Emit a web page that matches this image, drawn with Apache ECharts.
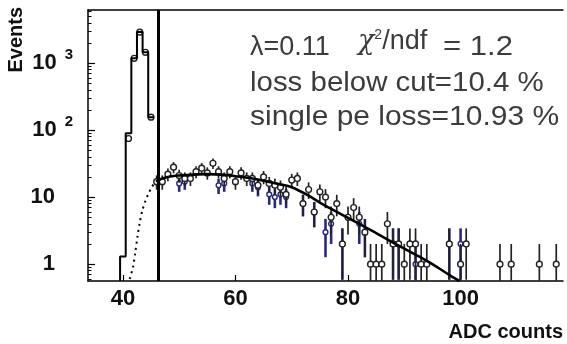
<!DOCTYPE html>
<html>
<head>
<meta charset="utf-8">
<script src="https://cdn.jsdelivr.net/npm/echarts@6/dist/echarts.min.js"></script>
<style>
  html, body { margin: 0; padding: 0; background: #fff; }
  #main { width: 567px; height: 344px; }
</style>
</head>
<body>
<div id="main"></div>
<script>
// histogram below the cut: bin centre (ADC) and events
const histX = [40, 41, 42, 43, 44, 45];
const histY = [1.3, 90, 1180, 2900, 1450, 156];

// measured points (black)
const pointX = [41, 42, 43, 44, 45, 46, 47, 48, 49, 50, 51, 52, 53, 54, 55, 56, 57, 58, 59, 60,
  61, 62, 63, 64, 65, 66, 67, 68, 69, 70, 71, 72, 73, 74, 75, 76, 77, 78, 79, 80,
  81, 82, 83, 84, 85, 86, 87, 88, 89, 90, 91, 92, 93, 94, 98, 100, 101, 107, 109, 114, 117];
const pointY = [75, 1180, 2900, 1450, 156, 17, 17, 22, 28, 21, 19, 19, 24, 27, 23, 32, 24, 19, 24, 17,
  23, 19, 19, 15, 20, 16, 15, 14, 11, 18, 19, 8, 13, 6, 12, 10, 5, 8, 2, 5,
  7, 5, 3, 1, 1, 1, 4, 2, 2, 1, 2, 2, 1, 1, 2, 1, 2, 1, 1, 1, 1];

// second data set (blue)
const blueX = [50, 51, 57, 58, 63, 64, 66, 67, 68, 69, 72, 74, 76, 77, 79, 82, 83, 88, 89, 92, 98, 100];
const blueY = [16, 17, 15, 16, 16, 14, 11, 10, 11, 10, 8, 6, 3, 4, 2, 4, 3, 2, 2, 1, 2, 2];

// fit above the cut
const fitX = [46.2, 48, 50, 52, 55, 58, 60, 63, 65, 68, 70, 73, 75, 78, 80, 83, 85, 88, 90, 93, 95, 98.6, 99.8];
const fitY = [18, 20, 21, 21.5, 22, 21.5, 20.5, 19, 17.5, 15.5, 14, 10.5, 8.3, 6, 4.9, 3.6, 2.9, 2.1, 1.7, 1.25, 1.0, 0.64, 0.56];

// extrapolation of the fit below the cut (dotted)
const tailX = [41.2, 41.8, 42.2, 42.6, 43, 43.5, 44, 44.5, 45, 45.6, 46.2];
const tailY = [0.6, 0.9, 1.5, 2.6, 4.2, 6.5, 8.8, 11, 13.5, 16, 18];

const cutX = 46.2;
const xTicks = [40, 60, 80, 100];
const yTicks = [1, 10, 100, 1000];
const Y_MIN = 0.56, Y_MAX = 6200;

const yMinor = [];
[0.1, 1, 10, 100, 1000].forEach(d => {
  for (let k = 2; k <= 9; k++) {
    const v = +(d * k).toPrecision(3);
    if (v > Y_MIN && v < Y_MAX) yMinor.push(v);
  }
});

const histLine = [[histX[0] - 0.5, Y_MIN]];
histX.forEach((x, i) => {
  histLine.push([x - 0.5, histY[i]]);
  histLine.push([Math.min(x + 0.5, cutX), histY[i]]);
});

function errorBars(color, width, r) {
  return function (params, api) {
    const x = api.value(0);
    const y = api.value(1);
    const err = Math.sqrt(y);
    const top = api.coord([x, Math.min(y + err, Y_MAX)]);
    const bot = api.coord([x, Math.max(y - err, Y_MIN)]);
    const c = api.coord([x, y]);
    return {
      type: 'group',
      children: [
        { type: 'line', shape: { x1: top[0], y1: top[1], x2: bot[0], y2: bot[1] },
          style: { stroke: color, lineWidth: width } },
        { type: 'circle', shape: { cx: c[0], cy: c[1], r: r },
          style: { fill: '#fff', stroke: color, lineWidth: 1.4 } }
      ]
    };
  };
}

const chart = echarts.init(document.getElementById('main'));
const axisBlack = { color: '#000', width: 1.5 };
const SANS = '"Liberation Sans", Arial, sans-serif';
const noteFont = '27px ' + SANS;
const noteColor = '#3c3c3c';

chart.setOption({
  animation: false,
  grid: { left: 88, right: 4, top: 10, bottom: 63 },
  xAxis: [
    {
      type: 'value', min: 33.8, max: 118.2, position: 'bottom',
      axisLine: { show: true, lineStyle: axisBlack },
      axisTick: { show: true, inside: true, length: 6, customValues: xTicks, lineStyle: { color: '#000', width: 1.2 } },
      axisLabel: {
        customValues: xTicks, margin: 7, color: '#111',
        fontFamily: SANS, fontWeight: 'bold', fontSize: 22
      },
      splitLine: { show: false }
    },
    {
      type: 'value', min: 33.8, max: 118.2, position: 'top',
      axisLine: { show: true, lineStyle: axisBlack },
      axisTick: { show: false }, axisLabel: { show: false }, splitLine: { show: false }
    }
  ],
  yAxis: [
    {
      type: 'log', min: Y_MIN, max: Y_MAX, position: 'left',
      axisLine: { show: true, lineStyle: axisBlack },
      axisTick: { show: true, inside: true, length: 7, customValues: yTicks, lineStyle: { color: '#000', width: 1.2 } },
      axisLabel: {
        customValues: yTicks, margin: 15,
        formatter: v => {
          if (v < 50) return '{p|' + Math.round(v) + '}';
          return '{b|10}{s|' + Math.round(Math.log10(v)) + '}';
        },
        rich: {
          p: { fontFamily: SANS, fontWeight: 'bold', fontSize: 22, color: '#111', padding: [0, 18, 0, 0] },
          b: { fontFamily: SANS, fontWeight: 'bold', fontSize: 22, color: '#111', padding: [0, 0, 0, 0] },
          s: { fontFamily: SANS, fontWeight: 'bold', fontSize: 15, color: '#111', padding: [0, 0, 16, 8] }
        }
      },
      splitLine: { show: false }
    },
    {
      type: 'log', min: Y_MIN, max: Y_MAX, position: 'left',
      axisLine: { show: false },
      axisTick: { show: true, inside: true, length: 3.5, customValues: yMinor, lineStyle: { color: '#000', width: 1 } },
      axisLabel: { show: false }, splitLine: { show: false }
    }
  ],
  graphic: [
    { type: 'text', left: 250, top: 34,
      style: { text: 'λ=0.11', font: noteFont, fill: noteColor } },
    { type: 'text', left: 358, top: 28,
      style: {
        text: '{c|χ}{s|2}{t|/ndf}',
        rich: {
          c: { font: 'italic 27px "DejaVu Serif", serif', fill: noteColor },
          s: { font: '14px ' + SANS, fill: noteColor, padding: [0, 0, 14, 0] },
          t: { font: noteFont, fill: noteColor }
        }
      } },
    { type: 'text', left: 443, top: 34, scaleX: 1.15,
      style: { text: '= 1.2', font: noteFont, fill: noteColor } },
    { type: 'text', left: 250, top: 70, scaleX: 1.09,
      style: { text: 'loss below cut=10.4 %', font: noteFont, fill: noteColor } },
    { type: 'text', left: 250, top: 104, scaleX: 1.11,
      style: { text: 'single pe loss=10.93 %', font: noteFont, fill: noteColor } },
    { type: 'text', left: 6, top: 7, rotation: Math.PI / 2,
      style: { text: 'Events', font: 'bold 20px ' + SANS, fill: '#111' } },
    { type: 'text', right: 4, top: 322,
      style: { text: 'ADC counts', font: 'bold 20px ' + SANS, fill: '#111' } }
  ],
  series: [
    {
      name: 'histogram', type: 'line', data: histLine, showSymbol: false,
      lineStyle: { color: '#000', width: 2 },
      markLine: {
        symbol: 'none', silent: true, label: { show: false },
        lineStyle: { color: '#000', width: 3, type: 'solid' },
        data: [{ xAxis: cutX }]
      }
    },
    {
      name: 'blue', type: 'custom', renderItem: errorBars('#28287e', 2.6, 2.4),
      encode: { x: 0, y: 1 },
      data: blueX.map((x, i) => [x, blueY[i]])
    },
    {
      name: 'points', type: 'custom', renderItem: errorBars('#222', 1.7, 2.9),
      encode: { x: 0, y: 1 },
      data: pointX.map((x, i) => [x, pointY[i]])
    },
    {
      name: 'fit', type: 'line', smooth: 0.3, showSymbol: false,
      lineStyle: { color: '#000', width: 2.6 },
      data: fitX.map((x, i) => [x, fitY[i]])
    },
    {
      name: 'tail', type: 'line', smooth: 0.3, showSymbol: false,
      lineStyle: { color: '#000', width: 2, type: [2, 4] },
      data: tailX.map((x, i) => [x, tailY[i]])
    }
  ]
});
</script>
</body>
</html>
